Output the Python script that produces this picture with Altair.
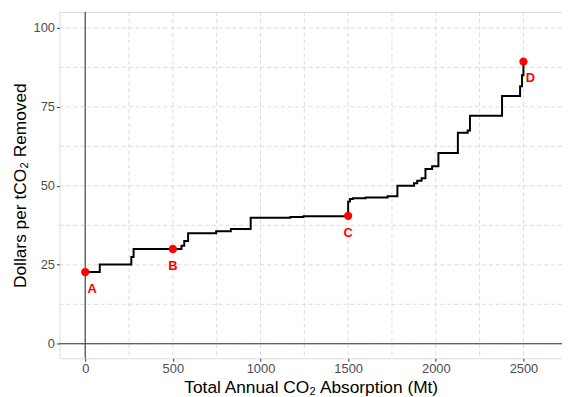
import altair as alt
import pandas as pd

# ---- data ----
curve_x = [0, 83, 263, 276, 549, 565, 587, 747, 831, 944, 1170, 1245, 1500, 1510,
           1527, 1600, 1725, 1781, 1876, 1894, 1919, 1941, 1979, 2015, 2126, 2182,
           2195, 2378, 2481, 2492, 2500]
curve_y = [22.7, 25.1, 27.5, 30.0, 31.0, 32.5, 35.0, 35.6, 36.3, 39.9, 40.1, 40.4,
           45.0, 45.8, 46.1, 46.3, 46.7, 50.0, 50.8, 51.6, 52.4, 55.3, 56.2, 60.4,
           66.8, 67.5, 72.2, 78.4, 81.5, 85.0, 89.3]

pt_label = ["A", "B", "C", "D"]
pt_x = [0, 500, 1500, 2500]
pt_y = [22.7, 30.0, 40.5, 89.3]

x_major = [0, 500, 1000, 1500, 2000, 2500]
x_minor = [250, 750, 1250, 1750, 2250]
y_major = [0, 25, 50, 75, 100]
y_minor = [12.5, 37.5, 62.5, 87.5]

x_title = "Total Annual CO₂ Absorption (Mt)"
y_title = "Dollars per tCO₂ Removed"

curve = pd.DataFrame({"x": curve_x, "y": curve_y})
pts = pd.DataFrame({"x": pt_x, "y": pt_y, "label": pt_label})

xs = alt.Scale(domain=[-147, 2720], nice=False, zero=False)
ys = alt.Scale(domain=[-4.6, 105], nice=False, zero=False)

xax = alt.Axis(
    values=x_major, format="d", grid=False, domain=False, tickSize=3,
    tickColor="#333333", labelColor="#4d4d4d", labelFontSize=13, labelPadding=1,
    title=x_title, titleFontSize=17.5, titleFontWeight="normal", titleColor="black",
    titleY=35, titleBaseline="alphabetic")
yax = alt.Axis(
    values=y_major, format="d", grid=False, domain=False, tickSize=3,
    tickColor="#333333", labelColor="#4d4d4d", labelFontSize=13, labelPadding=2,
    title=y_title, titleFontSize=17.5, titleFontWeight="normal", titleColor="black",
    titleX=-34, titleBaseline="alphabetic")

GRID = "#d2d2d2"
RED = "#ff0000"

gx = alt.Chart(pd.DataFrame({"x": x_major + x_minor})).mark_rule(
    color=GRID, strokeDash=[4, 3], strokeWidth=0.8
).encode(x=alt.X("x:Q", scale=xs, axis=xax))

gy = alt.Chart(pd.DataFrame({"y": y_major + y_minor})).mark_rule(
    color=GRID, strokeDash=[4, 3], strokeWidth=0.8
).encode(y=alt.Y("y:Q", scale=ys, axis=yax))

vline = alt.Chart(pd.DataFrame({"x": [0]})).mark_rule(
    color="#333333", strokeWidth=1.1
).encode(x=alt.X("x:Q", scale=xs, axis=xax))

hline = alt.Chart(pd.DataFrame({"y": [0]})).mark_rule(
    color="#333333", strokeWidth=1.1
).encode(y=alt.Y("y:Q", scale=ys, axis=yax))

line = alt.Chart(curve).mark_line(
    color="black", strokeWidth=2, interpolate="step-after"
).encode(
    x=alt.X("x:Q", scale=xs, axis=xax),
    y=alt.Y("y:Q", scale=ys, axis=yax),
)

points = alt.Chart(pts).mark_point(
    filled=True, color=RED, size=70, opacity=1
).encode(x=alt.X("x:Q", scale=xs, axis=xax), y=alt.Y("y:Q", scale=ys, axis=yax))

lab_off = alt.Chart(pts).transform_filter(
    "datum.label == 'A' || datum.label == 'D'"
).mark_text(color=RED, fontWeight="bold", fontSize=13, dx=7, dy=17).encode(
    x=alt.X("x:Q", scale=xs, axis=xax), y=alt.Y("y:Q", scale=ys, axis=yax),
    text="label:N")

lab_mid = alt.Chart(pts).transform_filter(
    "datum.label == 'B' || datum.label == 'C'"
).mark_text(color=RED, fontWeight="bold", fontSize=13, dx=0, dy=17).encode(
    x=alt.X("x:Q", scale=xs, axis=xax), y=alt.Y("y:Q", scale=ys, axis=yax),
    text="label:N")

chart = alt.layer(gx, gy, vline, hline, line, points, lab_off, lab_mid).properties(
    width=508, height=350,
    autosize=alt.AutoSizeParams(type="none"),
    padding={"left": 52, "top": 2, "right": 0, "bottom": 37},
    background="white",
).configure_view(strokeOpacity=0).configure(font="Liberation Sans")

chart.save("out.html", embed_options={"renderer": "svg", "actions": False})
